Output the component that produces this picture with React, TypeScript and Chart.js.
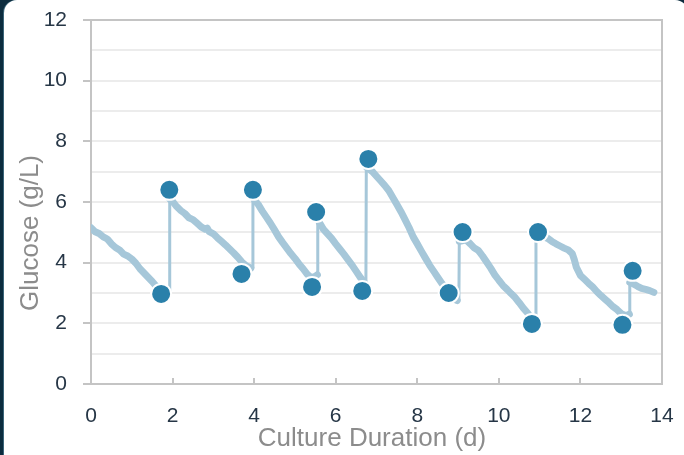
import React, { useEffect, useRef } from "react";
import { Chart, registerables } from "chart.js";

Chart.register(...registerables);

// Continuous glucose trace (day, g/L)
const traceDays: number[] = [
  0, 0.1, 0.2, 0.3, 0.4, 0.5, 0.6, 0.7, 0.8, 0.9, 1.0, 1.1, 1.2, 1.3, 1.4, 1.5, 1.6, 1.7, 1.8, 1.88,
  1.92, 1.93,
  2.0, 2.1, 2.2, 2.3, 2.4, 2.5, 2.6, 2.7, 2.8, 2.85, 2.9, 3.0, 3.1, 3.2, 3.3, 3.4, 3.5, 3.6, 3.7, 3.8, 3.92,
  3.96, 3.97,
  4.0, 4.1, 4.2, 4.3, 4.4, 4.5, 4.6, 4.7, 4.8, 4.9, 5.0, 5.1, 5.2, 5.3, 5.4, 5.5,
  5.55, 5.56,
  5.6, 5.7, 5.8, 5.9, 6.0, 6.1, 6.2, 6.3, 6.4, 6.5, 6.6, 6.7,
  6.74, 6.75,
  6.8, 6.9, 7.0, 7.1, 7.2, 7.3, 7.4, 7.5, 7.6, 7.7, 7.8, 7.9, 8.0, 8.1, 8.2, 8.3, 8.4, 8.5, 8.6, 8.7, 8.8, 8.9, 8.98,
  9.02, 9.03,
  9.1, 9.2, 9.3, 9.4, 9.5, 9.6, 9.7, 9.8, 9.9, 10.0, 10.1, 10.2, 10.3, 10.4, 10.5, 10.6, 10.7, 10.8, 10.86,
  10.9, 10.91,
  11.0, 11.1, 11.2, 11.3, 11.4, 11.5, 11.6, 11.7, 11.8, 11.85, 11.9, 12.0, 12.1, 12.2, 12.3, 12.4, 12.5, 12.6, 12.7, 12.8, 12.9, 13.0, 13.12,
  13.2, 13.21,
  13.3, 13.4, 13.5, 13.6, 13.7, 13.8,
];
const traceGlucose: number[] = [
  5.15, 5.02, 4.96, 4.85, 4.78, 4.62, 4.5, 4.42, 4.28, 4.22, 4.12, 3.98, 3.8, 3.66, 3.52, 3.38, 3.22, 3.08, 3.02, 3.0,
  3.05, 6.1,
  6.02, 5.85, 5.72, 5.62, 5.48, 5.42, 5.3, 5.18, 5.1, 5.14, 5.02, 4.95, 4.82, 4.7, 4.58, 4.45, 4.32, 4.18, 4.02, 3.9, 3.82,
  3.85, 6.15,
  6.08, 5.92, 5.7, 5.5, 5.3, 5.08, 4.85, 4.66, 4.48, 4.3, 4.14, 3.96, 3.8, 3.62, 3.5, 3.55,
  3.6, 5.3,
  5.32, 5.1, 4.95, 4.8, 4.62, 4.45, 4.28, 4.1, 3.92, 3.72, 3.52, 3.35,
  3.3, 7.15,
  7.1, 7.0, 6.85, 6.7, 6.55, 6.38, 6.15, 5.92, 5.68, 5.42, 5.15, 4.85, 4.62, 4.38, 4.15, 3.92, 3.72, 3.52, 3.32, 3.15, 2.95, 2.8, 2.75,
  2.78, 4.7,
  4.72, 4.75, 4.62, 4.48, 4.4, 4.22, 4.02, 3.82, 3.6, 3.42, 3.25, 3.12, 2.98, 2.85, 2.68, 2.5, 2.35, 2.15, 2.05,
  2.05, 4.95,
  4.9, 4.85, 4.8, 4.7, 4.62, 4.55, 4.48, 4.42, 4.3, 4.1, 3.85, 3.58, 3.45, 3.32, 3.2, 3.05, 2.92, 2.8, 2.68, 2.55, 2.45, 2.32, 2.25,
  2.3, 3.35,
  3.3, 3.22, 3.15, 3.12, 3.08, 3.02,
];

// Offline samples (day, g/L)
const sampleDays: number[] = [1.72, 1.92, 3.69, 3.97, 5.42, 5.52, 6.65, 6.8, 8.77, 9.11, 10.81, 10.96, 13.03, 13.28];
const sampleGlucose: number[] = [2.97, 6.4, 3.63, 6.4, 3.2, 5.67, 3.07, 7.42, 3.0, 5.01, 1.98, 5.01, 1.95, 3.73];

const xTicks: number[] = [0, 2, 4, 6, 8, 10, 12, 14];
const yLabelTicks: number[] = [0, 2, 4, 6, 8, 10, 12];

const xTitle = "Culture Duration (d)";
const yTitle = "Glucose (g/L)";

const FONT = "'Liberation Sans', Arial, Helvetica, sans-serif";
const AXIS_GRAY = "#c4c4c4";

export default function App() {
  const ref = useRef<HTMLCanvasElement | null>(null);

  useEffect(() => {
    document.body.style.margin = "0";
    document.body.style.background = "#0c2c3e";
    const canvas = ref.current!;
    const framePlugin = {
      id: "framePlugin",
      afterDraw(chart: any) {
        const { ctx, chartArea } = chart;
        const xs = chart.scales.x;
        ctx.save();
        ctx.strokeStyle = AXIS_GRAY;
        ctx.lineWidth = 2;
        ctx.beginPath();
        ctx.moveTo(chartArea.left, chartArea.top);
        ctx.lineTo(chartArea.right, chartArea.top);
        ctx.lineTo(chartArea.right, chartArea.bottom);
        ctx.stroke();
        // inner x ticks
        for (const v of xTicks) {
          if (v === 0 || v === 14) continue;
          const px = Math.round(xs.getPixelForValue(v));
          ctx.beginPath();
          ctx.moveTo(px, chartArea.bottom);
          ctx.lineTo(px, chartArea.bottom - 6);
          ctx.stroke();
        }
        // titles
        ctx.fillStyle = "#8c8c8c";
        ctx.font = `26px ${FONT}`;
        ctx.textAlign = "center";
        ctx.textBaseline = "middle";
        ctx.fillText(xTitle, 372, 439);
        ctx.translate(31, 233);
        ctx.rotate(-Math.PI / 2);
        ctx.fillText(yTitle, 0, 0);
        ctx.restore();
      },
    };

    const chart = new Chart(canvas, {
      type: "scatter",
      data: {
        datasets: [
          {
            data: sampleDays.map((d, i) => ({ x: d, y: sampleGlucose[i] })),
            showLine: false,
            pointRadius: 10,
            pointHoverRadius: 10,
            pointBackgroundColor: "#2a80aa",
            pointBorderColor: "#ffffff",
            pointBorderWidth: 2,
            order: 0,
          },
          {
            data: traceDays.map((d, i) => ({ x: d, y: traceGlucose[i] })),
            showLine: true,
            pointRadius: 0,
            borderColor: "#a6c7d9",
            borderWidth: 7,
            borderJoinStyle: "round",
            borderCapStyle: "round",
            segment: {
              borderWidth: (c: any) => (Math.abs(c.p1.x - c.p0.x) < 2 ? 3 : 7),
            },
            order: 1,
          } as any,
        ],
      },
      options: {
        responsive: false,
        animation: false,
        layout: { padding: { left: 0, right: 22, top: 20, bottom: 0 } },
        plugins: { legend: { display: false }, tooltip: { enabled: false } },
        scales: {
          x: {
            type: "linear",
            min: 0,
            max: 14,
            afterFit: (s: any) => {
              s.height = 71;
              s.paddingLeft = 0;
              s.paddingRight = 0;
            },
            afterBuildTicks: (s: any) => {
              s.ticks = xTicks.map((v) => ({ value: v }));
            },
            grid: { display: false, drawTicks: false },
            border: { display: true, color: AXIS_GRAY, width: 2 },
            ticks: {
              padding: 20,
              color: "#263646",
              font: { family: FONT, size: 21 },
              maxRotation: 0,
              autoSkip: false,
            },
          },
          y: {
            type: "linear",
            min: 0,
            max: 12,
            afterFit: (s: any) => {
              s.width = 91;
              s.paddingTop = 0;
              s.paddingBottom = 0;
            },
            ticks: {
              stepSize: 1,
              autoSkip: false,
              padding: 16,
              color: "#263646",
              font: { family: FONT, size: 21 },
              callback: (v: any) => (yLabelTicks.includes(Number(v)) ? String(v) : ""),
            },
            grid: {
              color: "#ececec",
              lineWidth: 2,
              tickLength: 8,
              tickColor: (c: any) =>
                c.tick && yLabelTicks.includes(c.tick.value) ? AXIS_GRAY : "rgba(0,0,0,0)",
            },
            border: { display: true, color: AXIS_GRAY, width: 2 },
          },
        },
      },
      plugins: [framePlugin],
    } as any);
    return () => chart.destroy();
  }, []);

  return (
    <div style={{ position: "relative", width: 684, height: 455, overflow: "hidden", background: "#0c2c3e" }}>
      <div
        style={{
          position: "absolute",
          left: 4,
          top: 0,
          width: 684,
          height: 500,
          background: "#ffffff",
          borderRadius: 13,
          boxShadow: "-1px 0 0 #3b6579",
        }}
      />
      <canvas ref={ref} width={684} height={455} style={{ position: "absolute", left: 0, top: 0, width: 684, height: 455 }} />
    </div>
  );
}
